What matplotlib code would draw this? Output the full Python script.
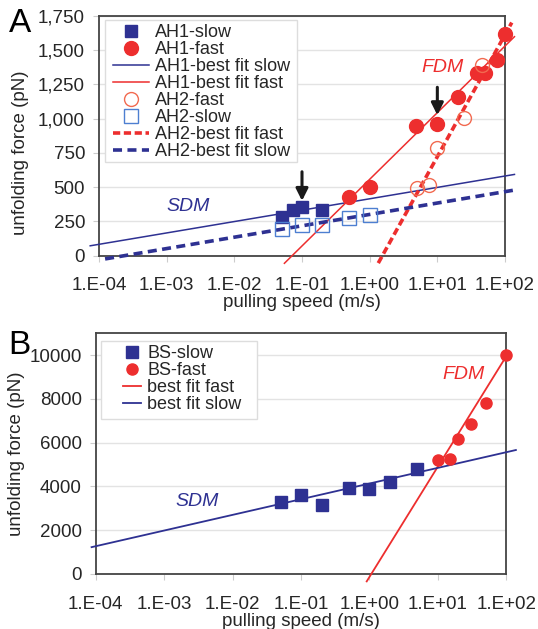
import numpy as np
import matplotlib
matplotlib.use("Agg")
from matplotlib import pyplot as plt
from matplotlib.patches import Rectangle
from matplotlib.ticker import FixedLocator, FuncFormatter

plt.rcParams['font.family'] = ['Liberation Sans', 'DejaVu Sans']

# ---- panel A data ----
ah1_slow_x = [0.05, 0.074, 0.1, 0.2]
ah1_slow_y = [283, 336, 353, 331]
ah1_fast_x = [0.5, 1.0, 4.9, 10, 20, 39, 51, 76, 100]
ah1_fast_y = [429, 500, 943, 962, 1157, 1330, 1330, 1425, 1615]
ah2_fast_x = [5, 7.6, 9.8, 25, 45]
ah2_fast_y = [495, 518, 782, 1004, 1390]
ah2_slow_x = [0.05, 0.1, 0.2, 0.5, 1.0]
ah2_slow_y = [195, 224, 226, 275, 300]

# fits: force = slope*log10(v) + icpt, drawn over [lo, hi] decades
ah1_fit_slow = (83, 415, -4.13, 2.14)
ah1_fit_fast = (486, 557, -1.26, 2.14)
ah2_fit_fast = (889, -167, 0.127, 2.10)
ah2_fit_slow = (83, 301, -3.91, 2.14)

# ---- panel B data ----
bs_slow_x = [0.051, 0.1, 0.2, 0.51, 1.0, 2.0, 5.0]
bs_slow_y = [3292, 3629, 3170, 3951, 3905, 4211, 4778]
bs_fast_x = [10, 15, 20, 30, 50, 100]
bs_fast_y = [5207, 5237, 6171, 6845, 7810, 10000]
bs_fit_slow = (716, 4134, -4.06, 2.14)
bs_fit_fast = (5045, -136, -0.04, 2.0)

xticks = [1e-4, 1e-3, 1e-2, 1e-1, 1e0, 1e1, 1e2]
a_yticks = [0, 250, 500, 750, 1000, 1250, 1500, 1750]
b_yticks = [0, 2000, 4000, 6000, 8000, 10000]

navy = '#2e3192'
red = '#ed2e2e'
salmon = '#f26a50'
lightblue = '#4d7fd1'
txt = '#262626'


def fit_line(ax, fit, **kw):
    slope, icpt, lo, hi = fit
    lx = np.array([lo, hi])
    ax.plot(10 ** lx, slope * lx + icpt, clip_on=False, **kw)


def style_axes(ax, yticks, yfmt, ylab_pos):
    ax.set_xscale('log')
    ax.set_xlim(1e-4, 1e2)
    ax.xaxis.set_major_locator(FixedLocator(xticks))
    ax.xaxis.set_minor_locator(FixedLocator([]))
    ax.xaxis.set_major_formatter(FuncFormatter(
        lambda v, p: "1.E%+03d" % int(round(np.log10(v)))))
    ax.yaxis.set_major_locator(FixedLocator(yticks))
    ax.yaxis.set_major_formatter(FuncFormatter(yfmt))
    ax.grid(axis='y', color='#e3e3e3', lw=1, zorder=0)
    ax.set_axisbelow(True)
    for s in ax.spines.values():
        s.set_color('#444444')
        s.set_linewidth(1.3)
    ax.tick_params(axis='x', length=4, color='#cccccc', pad=11.5,
                   labelsize=13.5, labelcolor=txt)
    ax.tick_params(axis='y', length=4, color='#cccccc', pad=6,
                   labelsize=13.5, labelcolor=txt)
    ax.set_xlabel('pulling speed (m/s)', fontsize=13.5, color=txt, labelpad=0)
    ax.set_ylabel('unfolding force (pN)', fontsize=13.5, color=txt)
    ax.yaxis.set_label_coords(*ylab_pos)


def legend_box(ax, x0, y0, x1, y1):
    ax.add_patch(Rectangle((x0, y0), x1 - x0, y1 - y0, transform=ax.transAxes,
                           facecolor='white', edgecolor='#dddddd', lw=1,
                           zorder=7, clip_on=False))


fig = plt.figure(figsize=(5.38, 6.29), dpi=100)

# ---------- panel A ----------
ax = fig.add_axes([99 / 538, 1 - 255.7 / 629, 406 / 538, 240 / 629])
ax.set_ylim(0, 1750)
style_axes(ax, a_yticks, lambda v, p: f"{int(v):,}", (-0.172, 0.43))

ax.plot(ah1_slow_x, ah1_slow_y, 's', color=navy, ms=8.5, ls='none',
        label='AH1-slow', zorder=4, clip_on=False)
ax.plot(ah1_fast_x, ah1_fast_y, 'o', color=red, ms=10, ls='none',
        label='AH1-fast', zorder=4, clip_on=False)
fit_line(ax, ah1_fit_slow, color=navy, lw=1.1, label='AH1-best fit slow', zorder=3)
fit_line(ax, ah1_fit_fast, color=red, lw=1.1, label='AH1-best fit fast', zorder=3)
ax.plot(ah2_fast_x, ah2_fast_y, 'o', mfc='none', mec=salmon, mew=1, ms=10,
        ls='none', label='AH2-fast', zorder=4, clip_on=False)
ax.plot(ah2_slow_x, ah2_slow_y, 's', mfc='none', mec=lightblue, mew=1, ms=10,
        ls='none', label='AH2-slow', zorder=4, clip_on=False)
fit_line(ax, ah2_fit_fast, color=red, lw=2.6, ls=(0, (2, 1)),
         label='AH2-best fit fast', zorder=3)
fit_line(ax, ah2_fit_slow, color=navy, lw=2.6, ls=(0, (2.5, 1.5)),
         label='AH2-best fit slow', zorder=3)

for ax_x, top, tip in [(0.1, 612, 400), (10, 1228, 1025)]:
    ax.annotate('', xy=(ax_x, tip), xytext=(ax_x, top),
                arrowprops=dict(arrowstyle='-|>', color='#1a1a1a', lw=2.2,
                                mutation_scale=18, shrinkA=0, shrinkB=0),
                zorder=6)

ax.text(10 ** -2.68, 361, 'SDM', color=navy, style='italic', fontsize=14,
        ha='center', va='center')
ax.text(10 ** 1.07, 1372, 'FDM', color=red, style='italic', fontsize=14,
        ha='center', va='center')

legend_box(ax, 0.0148, 0.390, 0.4877, 0.982)
leg = ax.legend(loc='upper left', bbox_to_anchor=(0.0345, 0.965), fontsize=13,
                frameon=False, handlelength=2.0, handletextpad=0.3,
                labelspacing=0.0, borderpad=0, borderaxespad=0, numpoints=1)
leg.set_zorder(8)
for t in leg.get_texts():
    t.set_color(txt)

fig.text(20 / 538, 1 - 24 / 629, 'A', fontsize=24, ha='center', va='center')

# ---------- panel B ----------
bx = fig.add_axes([95.7 / 538, 1 - 574 / 629, 410.6 / 538, 240.7 / 629])
bx.set_ylim(0, 11000)
style_axes(bx, b_yticks, lambda v, p: f"{int(v)}", (-0.171, 0.5))

bx.plot(bs_slow_x, bs_slow_y, 's', color=navy, ms=8, ls='none',
        label='BS-slow', zorder=4, clip_on=False)
bx.plot(bs_fast_x, bs_fast_y, 'o', color=red, ms=8, ls='none',
        label='BS-fast', zorder=4, clip_on=False)
fit_line(bx, bs_fit_fast, color=red, lw=1.3, label='best fit fast', zorder=3)
fit_line(bx, bs_fit_slow, color=navy, lw=1.3, label='best fit slow', zorder=3)

bx.text(10 ** -2.52, 3292, 'SDM', color=navy, style='italic', fontsize=14,
        ha='center', va='center')
bx.text(10 ** 1.38, 9112, 'FDM', color=red, style='italic', fontsize=14,
        ha='center', va='center')

legend_box(bx, 0.014, 0.644, 0.393, 0.969)
leg = bx.legend(loc='upper left', bbox_to_anchor=(0.0665, 0.951), fontsize=13,
                frameon=False, handlelength=1.0, handletextpad=0.35,
                labelspacing=0.0, borderpad=0, borderaxespad=0, numpoints=1)
leg.set_zorder(8)
for t in leg.get_texts():
    t.set_color(txt)

fig.text(19 / 538, 1 - 345 / 629, 'B', fontsize=24, ha='center', va='center')

fig.savefig('out.png', dpi=100)
